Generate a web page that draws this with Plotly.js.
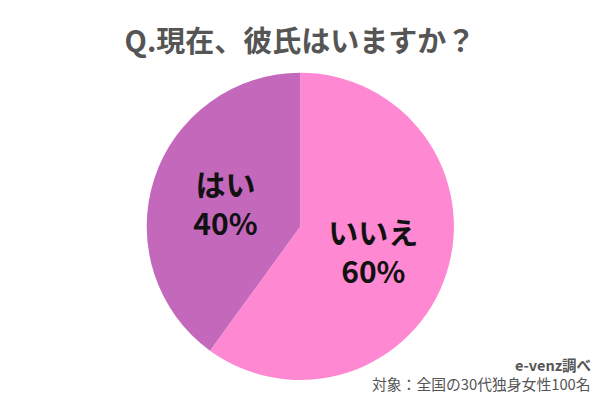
<!DOCTYPE html>
<html>
<head>
<meta charset="utf-8">
<script src="https://cdn.plot.ly/plotly-3.0.1.min.js"></script>
<style>html,body{margin:0;padding:0;background:#fff;}#chart{width:600px;height:400px;}</style>
</head>
<body>
<div id="chart"></div>
<script>
const labels = ['いいえ', 'はい'];
const values = [60, 40];
const colors = ['#FF88D2', '#C468BC'];
const titleText = 'Q.現在、彼氏はいますか？';
const sourceText = 'e-venz調べ';
const noteText = '対象：全国の30代独身女性100名';

const font = '"Noto Sans CJK JP", "Noto Sans", sans-serif';

const trace = {
  type: 'pie',
  labels: labels,
  values: values,
  sort: false,
  direction: 'clockwise',
  rotation: 0,
  marker: { colors: colors, line: { width: 0 } },
  texttemplate: '%{label}<br>%{percent:.0%}',
  textposition: 'inside',
  insidetextorientation: 'horizontal',
  textfont: { family: font, size: 30, color: '#111', weight: 'bold' },
  hoverinfo: 'none',
  domain: { x: [0.243, 0.758], y: [0.05, 0.818] },
  showlegend: false
};

const layout = {
  width: 600, height: 400,
  margin: { l: 0, r: 0, t: 0, b: 0 },
  paper_bgcolor: '#fff',
  title: {
    text: titleText,
    font: { family: font, size: 29, color: '#555', weight: 'bold' },
    x: 0.5, xanchor: 'center', y: 0.895, yanchor: 'middle'
  },
  annotations: [
    { text: sourceText, xref: 'paper', yref: 'paper', x: 0.988, y: 0.088, xanchor: 'right', yanchor: 'middle',
      showarrow: false, font: { family: font, size: 14.5, color: '#555', weight: 'bold' } },
    { text: noteText, xref: 'paper', yref: 'paper', x: 0.988, y: 0.042, xanchor: 'right', yanchor: 'middle',
      showarrow: false, font: { family: font, size: 14.8, color: '#555' } }
  ]
};

Plotly.newPlot('chart', [trace], layout, { staticPlot: true });
</script>
</body>
</html>
